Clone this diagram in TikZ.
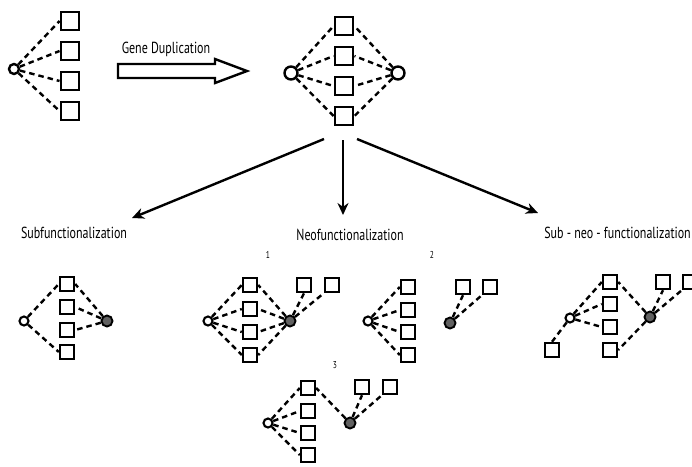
\documentclass[tikz,border=0pt]{standalone}
\usepackage{fontspec}
\setmainfont{PT Sans}
\newfontfamily\lblfont[FakeStretch=0.75]{PT Sans}
\usetikzlibrary{arrows.meta}
\begin{document}
\begin{tikzpicture}[x=1pt,y=-1pt,
  bsq/.style={draw,line width=2.4pt,minimum size=18.5pt,inner sep=0pt},
  ssq/.style={draw,line width=2.4pt,minimum size=14pt,inner sep=0pt},
  ocirc/.style={draw,circle,line width=2.4pt,minimum size=10pt,inner sep=0pt,fill=white},
  socirc/.style={draw,circle,line width=2.1pt,minimum size=9pt,inner sep=0pt,fill=white},
  fcirc/.style={draw,circle,line width=1.9pt,minimum size=11pt,inner sep=0pt,fill=black!62},
  conn/.style={line width=2.4pt,dash pattern=on 5.5pt off 4pt},
  bigarr/.style={line width=2.4pt,-{Stealth[length=12pt,width=11pt]}},
  lbl/.style={font=\lblfont\fontsize{16}{18}\selectfont,inner sep=0pt},
  num/.style={font=\lblfont\fontsize{10}{12}\selectfont,inner sep=0pt}]
\useasboundingbox (0,0) rectangle (692,466);
\clip (0,0) rectangle (692,466);

% top-left
\node[ocirc] (a0) at (14,69) {};
\foreach \i/\y in {1/21,2/51,3/81,4/111} \node[bsq] (a\i) at (70,\y) {};
\foreach \i in {1,...,4} \draw[conn] (a0) -- (a\i.west);

% gene duplication arrow
\node[lbl] (gd) at (166,49) {Gene Duplication};
\draw[line width=2.4pt,line join=miter] (118,64) -- (215,64) -- (215,59) -- (247,71) -- (215,83) -- (215,78) -- (118,78) -- cycle;

% top-middle
\node[ocirc,minimum size=13pt] (b0) at (291,73) {};
\node[ocirc,minimum size=13pt] (b5) at (398,73) {};
\foreach \i/\y in {1/26,2/56,3/86,4/116} \node[bsq] (b\i) at (344,\y) {};
\foreach \i in {1,...,4} {\draw[conn] (b0) -- (b\i.west); \draw[conn] (b5) -- (b\i.east);}

% arrows
\coordinate (s1) at (324,139); \coordinate (t1) at (132,218);
\coordinate (s2) at (343,140); \coordinate (t2) at (343,215);
\coordinate (s3) at (357,139); \coordinate (t3) at (538,213);
\draw[bigarr] (s1) -- (t1);
\draw[bigarr] (s2) -- (t2);
\draw[bigarr] (s3) -- (t3);

\node[lbl] (l1) at (74,233) {Subfunctionalization};
\node[lbl] (l2) at (350,235) {Neofunctionalization};
\node[lbl,anchor=east] (l3) at (691,233) {Sub - neo - functionalization};

% subfunctionalization
\node[socirc] (c0) at (24,321) {};
\foreach \i/\y in {1/284,2/307,3/330,4/352} \node[ssq] (c\i) at (67,\y) {};
\node[fcirc] (c5) at (107,321) {};
\draw[conn] (c0) -- (c1.west); \draw[conn] (c0) -- (c4.west);
\foreach \i in {1,2,3} \draw[conn] (c5) -- (c\i.east);

% neo 1
\node[num] (n1) at (268,255) {1};
\node[socirc] (d0) at (208,321) {};
\foreach \i/\y in {1/285,2/309,3/332,4/355} \node[ssq] (d\i) at (250,\y) {};
\node[fcirc] (d5) at (290,321) {};
\node[ssq] (d6) at (304,285) {};
\node[ssq] (d7) at (332,285) {};
\foreach \i in {1,...,4} {\draw[conn] (d0) -- (d\i.west); \draw[conn] (d5) -- (d\i.east);}
\draw[conn] (d5) -- (d6.south); \draw[conn] (d5) -- (d7.south west);

% neo 2
\node[num] (n2) at (432,255) {2};
\node[socirc] (e0) at (368,321) {};
\foreach \i/\y in {1/287,2/310,3/332,4/355} \node[ssq] (e\i) at (408,\y) {};
\node[fcirc] (e5) at (450,323) {};
\node[ssq] (e6) at (463,287) {};
\node[ssq] (e7) at (490,287) {};
\foreach \i in {1,...,4} \draw[conn] (e0) -- (e\i.west);
\draw[conn] (e5) -- (e6.south); \draw[conn] (e5) -- (e7.south west);

% neo 3
\node[num] (n3) at (335,365) {3};
\node[socirc] (f0) at (268,423) {};
\foreach \i/\y in {1/388,2/411,3/433,4/455} \node[ssq] (f\i) at (308,\y) {};
\node[fcirc] (f5) at (350,423) {};
\node[ssq] (f6) at (362,387) {};
\node[ssq] (f7) at (390,387) {};
\foreach \i in {1,...,4} \draw[conn] (f0) -- (f\i.west);
\draw[conn] (f5) -- (f1.east);
\draw[conn] (f5) -- (f6.south); \draw[conn] (f5) -- (f7.south west);

% sub-neo
\node[socirc] (g0) at (570,318) {};
\foreach \i/\y in {1/282,2/304,3/327,4/350} \node[ssq] (g\i) at (610,\y) {};
\node[ssq] (g8) at (552,350) {};
\node[fcirc] (g5) at (650,317) {};
\node[ssq] (g6) at (663,282) {};
\node[ssq] (g7) at (690,282) {};
\foreach \i in {1,2,3} \draw[conn] (g0) -- (g\i.west);
\draw[conn] (g0) -- (g8.north);
\draw[conn] (g5) -- (g1.east); \draw[conn] (g5) -- (g4.east);
\draw[conn] (g5) -- (g6.south); \draw[conn] (g5) -- (g7.south west);
\end{tikzpicture}
\end{document}
